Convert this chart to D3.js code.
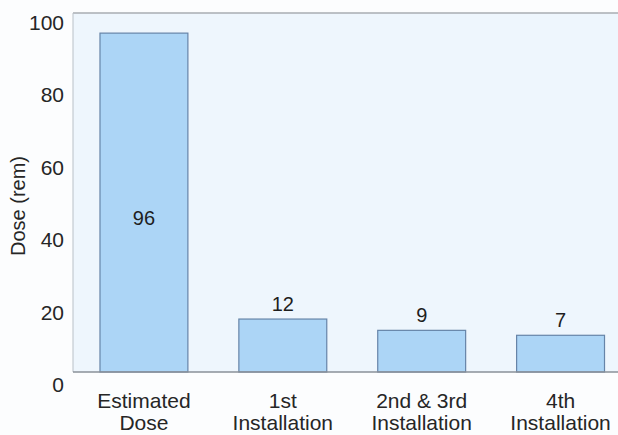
<!DOCTYPE html>
<html lang="en">
<head>
<meta charset="UTF-8">
<title>Dose by installation</title>
<script src="https://cdn.jsdelivr.net/npm/d3@7"></script>
<style>
  html, body { margin: 0; background: #fcfdfe; }
  svg { display: block; font-family: Arial, "Liberation Sans", sans-serif; }
</style>
</head>
<body>
<div id="chart"></div>
<script>
// categories (two-line labels)
const categories = [
  ["Estimated", "Dose"],
  ["1st", "Installation"],
  ["2nd & 3rd", "Installation"],
  ["4th", "Installation"]
];
// printed dose labels (rem)
const doseLabels = [96, 12, 9, 7];
// bar heights as drawn in the picture (rem)
const barHeights = [96, 15, 11.8, 10.4];
const yTicks = [0, 20, 40, 60, 80, 100];

const width = 618, height = 435;
const margin = { top: 13, right: -12, bottom: 63, left: 73 };

const svg = d3.select("#chart").append("svg")
  .attr("width", width)
  .attr("height", height);

const x = d3.scaleBand()
  .domain(d3.range(categories.length))
  .range([margin.left + 1.5, width - margin.right])
  .paddingInner(0.367)
  .paddingOuter(0.1835);

const y = d3.scaleLinear()
  .domain([0, 100])
  .range([height - margin.bottom, 19]);

// plot background
svg.append("rect")
  .attr("x", margin.left)
  .attr("y", margin.top)
  .attr("width", width - margin.left)
  .attr("height", y(0) - margin.top)
  .attr("fill", "#eef6fd");

// frame lines
svg.append("line")
  .attr("x1", margin.left).attr("x2", width)
  .attr("y1", margin.top).attr("y2", margin.top)
  .attr("stroke", "#a9adb2").attr("stroke-width", 1.5);
svg.append("line")
  .attr("x1", margin.left).attr("x2", margin.left)
  .attr("y1", margin.top).attr("y2", y(0))
  .attr("stroke", "#b9c0c8").attr("stroke-width", 1);

// bars
svg.append("g")
  .selectAll("rect")
  .data(barHeights)
  .join("rect")
  .attr("x", (d, i) => x(i))
  .attr("y", d => y(d))
  .attr("width", x.bandwidth())
  .attr("height", d => y(0) - y(d))
  .attr("fill", "#acd5f6")
  .attr("stroke", "#6684a8")
  .attr("stroke-width", 1.2);

// baseline
svg.append("line")
  .attr("x1", margin.left).attr("x2", width)
  .attr("y1", y(0)).attr("y2", y(0))
  .attr("stroke", "#8a9098").attr("stroke-width", 1.5);

// value labels
svg.append("g")
  .selectAll("text")
  .data(doseLabels)
  .join("text")
  .attr("x", (d, i) => x(i) + x.bandwidth() / 2)
  .attr("y", (d, i) => i === 0 ? 225 : y(barHeights[i]) - 8)
  .attr("text-anchor", "middle")
  .attr("font-size", 20)
  .attr("fill", "#1e1e1e")
  .text(d => d);

// y axis labels (scan spacing is slightly wider than the bar scale)
const yLab = d3.scaleLinear().domain([0, 100]).range([392, 30]);
svg.append("g")
  .selectAll("text")
  .data(yTicks)
  .join("text")
  .attr("x", 64)
  .attr("y", d => yLab(d))
  .attr("text-anchor", "end")
  .attr("font-size", 21)
  .attr("fill", "#262626")
  .text(d => d);

svg.append("text")
  .attr("transform", "translate(25,206) rotate(-90)")
  .attr("text-anchor", "middle")
  .attr("font-size", 20)
  .attr("fill", "#262626")
  .text("Dose (rem)");

// x category labels
const xg = svg.append("g")
  .selectAll("text")
  .data(categories)
  .join("text")
  .attr("text-anchor", "middle")
  .attr("font-size", 21)
  .attr("fill", "#262626");
xg.selectAll("tspan")
  .data((d, i) => d.map(line => ({ line, i })))
  .join("tspan")
  .attr("x", d => x(d.i) + x.bandwidth() / 2)
  .attr("y", (d, j) => 408 + j * 22)
  .text(d => d.line);
</script>
</body>
</html>
